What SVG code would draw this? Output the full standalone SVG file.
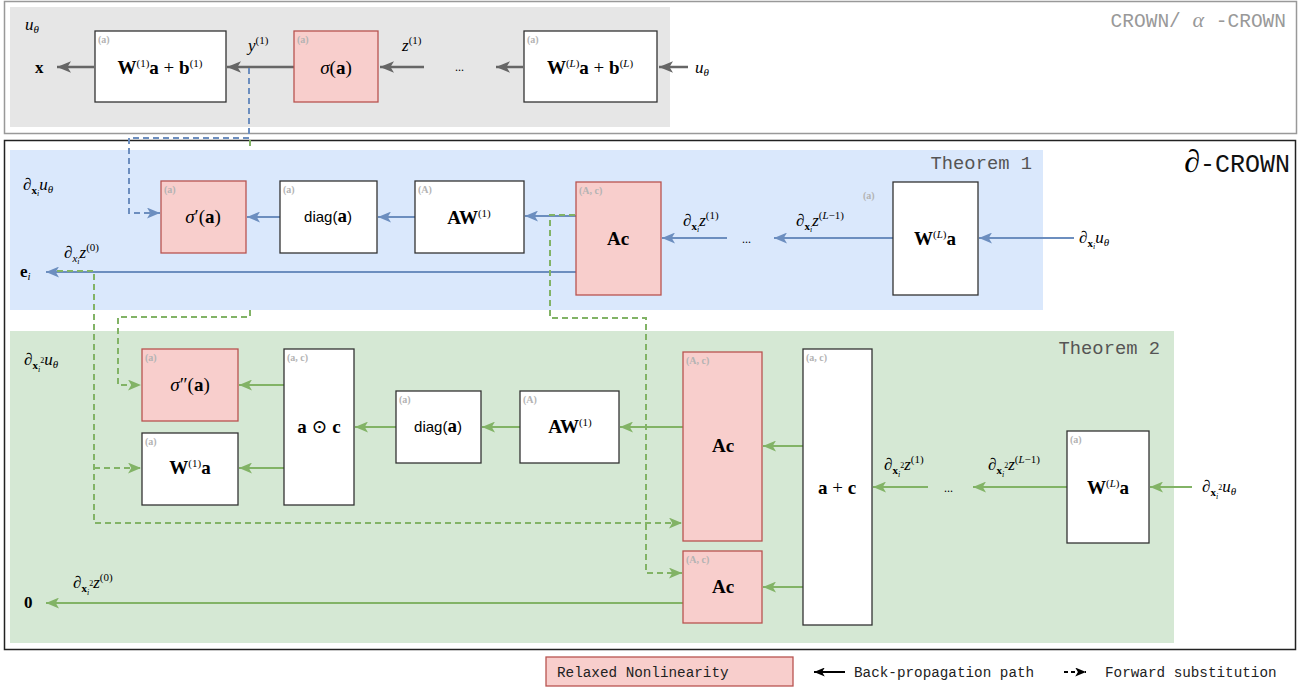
<svg xmlns="http://www.w3.org/2000/svg" width="1304" height="689" viewBox="0 0 1304 689">
<style>
.box{fill:#fff;stroke:#333;stroke-width:1.3}
.red{fill:#f8cecc;stroke:#b85450;stroke-width:1.3}
.c{font-family:"Liberation Serif","DejaVu Serif",serif;font-size:19px;text-anchor:middle;fill:#000}
.l{font-family:"Liberation Serif","DejaVu Serif",serif;font-size:17px;font-style:italic;fill:#000}
.b{font-weight:bold;font-style:normal}
.i{font-style:italic}
.n{font-style:normal}
.sp{font-size:11px;font-style:normal;font-weight:normal}
.sb{font-size:11px}
.ss{font-size:8px}
.sans{font-family:"Liberation Sans",Arial,sans-serif;font-size:15px}
.tag{font-family:"Liberation Serif",serif;font-size:10px;fill:#b3b3b3;font-weight:bold}
.mono{font-family:"Liberation Mono","DejaVu Sans Mono",monospace}
.th{font-family:"Liberation Mono","DejaVu Sans Mono",monospace;font-size:18.8px;fill:#555;text-anchor:end}
.dots{font-family:"Liberation Serif",serif;font-size:12px;fill:#000}
.gl{fill:none;stroke:#666;stroke-width:2.5;marker-end:url(#mg)}
.bl{fill:none;stroke:#6c8ebf;stroke-width:2;marker-end:url(#mb)}
.grl{fill:none;stroke:#82b366;stroke-width:2;marker-end:url(#mgr)}
.bd{fill:none;stroke:#6c8ebf;stroke-width:2;stroke-dasharray:6,4;marker-end:url(#mb)}
.gd{fill:none;stroke:#82b366;stroke-width:2;stroke-dasharray:6,4}
.gda{marker-end:url(#mgr)}
</style>
<defs>
<marker id="mg" viewBox="0 0 12 10" refX="12" refY="5" markerWidth="14" markerHeight="12" markerUnits="userSpaceOnUse" orient="auto"><path d="M0,0 L12,5 L0,10 L3,5 z" fill="#666"/></marker>
<marker id="mb" viewBox="0 0 12 10" refX="12" refY="5" markerWidth="13" markerHeight="11" markerUnits="userSpaceOnUse" orient="auto"><path d="M0,0 L12,5 L0,10 L3,5 z" fill="#6c8ebf"/></marker>
<marker id="mgr" viewBox="0 0 12 10" refX="12" refY="5" markerWidth="13" markerHeight="11" markerUnits="userSpaceOnUse" orient="auto"><path d="M0,0 L12,5 L0,10 L3,5 z" fill="#82b366"/></marker>
<marker id="mk" viewBox="0 0 12 10" refX="12" refY="5" markerWidth="12" markerHeight="9" markerUnits="userSpaceOnUse" orient="auto"><path d="M0,0 L12,5 L0,10 L3,5 z" fill="#000"/></marker>
</defs>

<!-- frames and panels -->
<g id="frames">
<rect x="4.5" y="1.5" width="1292" height="132" fill="#fff" stroke="#999" stroke-width="1.5"/>
<rect x="10" y="7" width="660" height="120" fill="#e6e6e6"/>
<text x="1286" y="27" text-anchor="end" class="mono" font-size="19.5" fill="#999">CROWN/ <tspan font-family="Liberation Serif,serif" font-style="italic" font-size="22">α</tspan> -CROWN</text>
<rect x="4.5" y="140.5" width="1291" height="509" fill="#fff" stroke="#222" stroke-width="1.5"/>
<text x="1290" y="172" text-anchor="end"><tspan font-family="Liberation Serif,serif" font-style="italic" font-size="32">∂</tspan><tspan class="mono" font-size="25" fill="#111">-CROWN</tspan></text>
<rect x="10" y="150" width="1033" height="160" fill="#dae8fc"/>
<text class="th" x="1032" y="169">Theorem 1</text>
<rect x="10" y="331" width="1164" height="312" fill="#d5e8d4"/>
<text class="th" x="1160" y="354">Theorem 2</text>
</g>

<!-- connectors -->
<g id="connectors">
<path class="gl" d="M94,67 H57"/>
<path class="gl" d="M294,67 H227"/>
<path class="gl" d="M424,67 H380"/>
<path class="gl" d="M523,67 H496"/>
<path class="gl" d="M688,67 H659"/>

<path class="bl" d="M1074,238 H979"/>
<path class="bl" d="M893,238 H774"/>
<path class="bl" d="M727,238 H662"/>
<path class="bl" d="M576,216 H525"/>
<path class="bl" d="M415,217 H378"/>
<path class="bl" d="M280,217 H247"/>
<path class="bl" d="M576,272 H46"/>

<path class="grl" d="M1192,487 H1150"/>
<path class="grl" d="M1067,487 H973"/>
<path class="grl" d="M928,487 H873"/>
<path class="grl" d="M803,446 H763"/>
<path class="grl" d="M803,587 H763"/>
<path class="grl" d="M683,427 H620"/>
<path class="grl" d="M520,427 H482"/>
<path class="grl" d="M396,427 H355"/>
<path class="grl" d="M284,385 H239"/>
<path class="grl" d="M284,468 H239"/>
<path class="grl" d="M683,603 H46"/>

<path class="bd" d="M249,68 V138 H129 V213 H160"/>
<path class="gd" d="M250,140 V150"/>
<path class="gd gda" d="M250,310 V317 H118 V385 H141"/>
<path class="gd gda" d="M57,271 H94 V523 H682"/>
<path class="gd gda" d="M94,468 H141"/>
<path class="gd gda" d="M575,215 H550 V318 H646 V573 H682"/>
</g>

<!-- top row (CROWN) -->
<g id="label-utheta-top"><text class="l" x="25" y="30">u<tspan class="sb" dy="3">θ</tspan></text></g>
<g id="label-x"><text class="l b" x="35" y="73">x</text></g>
<g id="node-W1b">
<rect class="box" x="95" y="31" width="131" height="71"/>
<text class="tag" x="98" y="43">(a)</text>
<text class="c" x="160" y="74"><tspan class="b">W</tspan><tspan class="sp" dy="-7">(1)</tspan><tspan class="b" dy="7">a</tspan> + <tspan class="b">b</tspan><tspan class="sp" dy="-7">(1)</tspan></text>
</g>
<g id="label-y1"><text class="l" x="248" y="51">y<tspan class="sp" dy="-7">(1)</tspan></text></g>
<g id="node-sigma">
<rect class="red" x="294" y="31" width="84" height="71"/>
<text class="tag" x="297" y="43" fill="#ccaaaa">(a)</text>
<text class="c" x="336" y="74"><tspan class="i">σ</tspan>(<tspan class="b">a</tspan>)</text>
</g>
<g id="label-z1"><text class="l" x="402" y="51">z<tspan class="sp" dy="-7">(1)</tspan></text></g>
<g id="dots-top"><text class="dots" x="455" y="71">...</text></g>
<g id="node-WLb">
<rect class="box" x="524" y="31" width="133" height="71"/>
<text class="tag" x="527" y="43">(a)</text>
<text class="c" x="590" y="74"><tspan class="b">W</tspan><tspan class="sp" dy="-7">(<tspan class="i">L</tspan>)</tspan><tspan class="b" dy="7">a</tspan> + <tspan class="b">b</tspan><tspan class="sp" dy="-7">(<tspan class="i">L</tspan>)</tspan></text>
</g>
<g id="label-utheta-in"><text class="l" x="695" y="73">u<tspan class="sb" dy="3">θ</tspan></text></g>

<!-- Theorem 1 row -->
<g id="label-dxu"><text class="l" x="23" y="190">∂<tspan class="sb b" dy="4">x</tspan><tspan class="ss" dy="2">i</tspan><tspan dy="-6">u</tspan><tspan class="sb" dy="3">θ</tspan></text></g>
<g id="node-sigmap">
<rect class="red" x="161" y="181" width="85" height="72"/>
<text class="tag" x="164" y="193" fill="#ccaaaa">(a)</text>
<text class="c" x="203" y="223"><tspan class="i">σ</tspan>′(<tspan class="b">a</tspan>)</text>
</g>
<g id="node-diag1">
<rect class="box" x="280" y="181" width="97" height="72"/>
<text class="tag" x="283" y="193">(a)</text>
<text class="c" x="328" y="222"><tspan class="sans">diag(</tspan><tspan class="b">a</tspan><tspan class="sans">)</tspan></text>
</g>
<g id="node-AW1">
<rect class="box" x="415" y="181" width="109" height="72"/>
<text class="tag" x="418" y="193">(A)</text>
<text class="c" x="469" y="224"><tspan class="b">AW</tspan><tspan class="sp" dy="-7">(1)</tspan></text>
</g>
<g id="node-Ac1">
<rect class="red" x="576" y="182" width="85" height="113"/>
<text class="tag" x="579" y="194" fill="#ccaaaa">(A, c)</text>
<text class="c b" x="618" y="245">Ac</text>
</g>
<g id="label-dz1"><text class="l" x="683" y="226">∂<tspan class="sb b" dy="4">x</tspan><tspan class="ss" dy="2">i</tspan><tspan dy="-6">z</tspan><tspan class="sp" dy="-7">(1)</tspan></text></g>
<g id="dots-1"><text class="dots" x="742" y="243">...</text></g>
<g id="label-dzL1"><text class="l" x="796" y="226">∂<tspan class="sb b" dy="4">x</tspan><tspan class="ss" dy="2">i</tspan><tspan dy="-6">z</tspan><tspan class="sp" dy="-7">(<tspan class="i">L</tspan>−1)</tspan></text></g>
<g id="node-WLa1">
<text class="tag" x="863" y="199">(a)</text>
<rect class="box" x="893" y="182" width="85" height="113"/>
<text class="c" x="935" y="245"><tspan class="b">W</tspan><tspan class="sp" dy="-7">(<tspan class="i">L</tspan>)</tspan><tspan class="b" dy="7">a</tspan></text>
</g>
<g id="label-dxu-in"><text class="l" x="1079" y="243">∂<tspan class="sb b" dy="4">x</tspan><tspan class="ss" dy="2">i</tspan><tspan dy="-6">u</tspan><tspan class="sb" dy="3">θ</tspan></text></g>
<g id="label-dz0"><text class="l" x="64" y="258">∂<tspan class="sb" dy="4">x</tspan><tspan class="ss" dy="2">i</tspan><tspan dy="-6">z</tspan><tspan class="sp" dy="-7">(0)</tspan></text></g>
<g id="label-ei"><text class="l" x="20" y="277"><tspan class="b">e</tspan><tspan class="sb" dy="3">i</tspan></text></g>

<!-- Theorem 2 row -->
<g id="label-dx2u"><text class="l" x="24" y="365">∂<tspan class="sb b" dy="4">x</tspan><tspan class="ss" dy="3">i</tspan><tspan class="ss n" dy="-9">2</tspan><tspan dy="2">u</tspan><tspan class="sb" dy="3">θ</tspan></text></g>
<g id="node-sigmapp">
<rect class="red" x="142" y="349" width="96" height="72"/>
<text class="tag" x="145" y="361" fill="#ccaaaa">(a)</text>
<text class="c" x="190" y="391"><tspan class="i">σ</tspan>″(<tspan class="b">a</tspan>)</text>
</g>
<g id="node-W1a">
<rect class="box" x="142" y="433" width="96" height="72"/>
<text class="tag" x="145" y="445">(a)</text>
<text class="c" x="190" y="474"><tspan class="b">W</tspan><tspan class="sp" dy="-7">(1)</tspan><tspan class="b" dy="7">a</tspan></text>
</g>
<g id="node-aodotc">
<rect class="box" x="284" y="349" width="70" height="156"/>
<text class="tag" x="287" y="361">(a, c)</text>
<text class="c" x="319" y="433"><tspan class="b">a</tspan> ⊙ <tspan class="b">c</tspan></text>
</g>
<g id="node-diag2">
<rect class="box" x="396" y="391" width="85" height="72"/>
<text class="tag" x="399" y="403">(a)</text>
<text class="c" x="438" y="432"><tspan class="sans">diag(</tspan><tspan class="b">a</tspan><tspan class="sans">)</tspan></text>
</g>
<g id="node-AW2">
<rect class="box" x="520" y="391" width="99" height="72"/>
<text class="tag" x="523" y="403">(A)</text>
<text class="c" x="570" y="433"><tspan class="b">AW</tspan><tspan class="sp" dy="-7">(1)</tspan></text>
</g>
<g id="node-Ac2">
<rect class="red" x="683" y="352" width="79" height="189"/>
<text class="tag" x="686" y="364" fill="#ccaaaa">(A, c)</text>
<text class="c b" x="723" y="452">Ac</text>
</g>
<g id="node-Ac3">
<rect class="red" x="683" y="551" width="79" height="72"/>
<text class="tag" x="686" y="563" fill="#ccaaaa">(A, c)</text>
<text class="c b" x="723" y="593">Ac</text>
</g>
<g id="node-apc">
<rect class="box" x="803" y="349" width="69" height="276"/>
<text class="tag" x="806" y="361">(a, c)</text>
<text class="c" x="837" y="494"><tspan class="b">a</tspan> + <tspan class="b">c</tspan></text>
</g>
<g id="label-d2z1"><text class="l" x="884" y="470">∂<tspan class="sb b" dy="4">x</tspan><tspan class="ss" dy="3">i</tspan><tspan class="ss n" dy="-9">2</tspan><tspan dy="2">z</tspan><tspan class="sp" dy="-7">(1)</tspan></text></g>
<g id="dots-2"><text class="dots" x="944" y="492">...</text></g>
<g id="label-d2zL1"><text class="l" x="988" y="470">∂<tspan class="sb b" dy="4">x</tspan><tspan class="ss" dy="3">i</tspan><tspan class="ss n" dy="-9">2</tspan><tspan dy="2">z</tspan><tspan class="sp" dy="-7">(<tspan class="i">L</tspan>−1)</tspan></text></g>
<g id="node-WLa2">
<rect class="box" x="1067" y="431" width="82" height="112"/>
<text class="tag" x="1070" y="443">(a)</text>
<text class="c" x="1108" y="494"><tspan class="b">W</tspan><tspan class="sp" dy="-7">(<tspan class="i">L</tspan>)</tspan><tspan class="b" dy="7">a</tspan></text>
</g>
<g id="label-d2u-in"><text class="l" x="1202" y="492">∂<tspan class="sb b" dy="4">x</tspan><tspan class="ss" dy="3">i</tspan><tspan class="ss n" dy="-9">2</tspan><tspan dy="2">u</tspan><tspan class="sb" dy="3">θ</tspan></text></g>
<g id="label-d2z0"><text class="l" x="73" y="588">∂<tspan class="sb b" dy="4">x</tspan><tspan class="ss" dy="3">i</tspan><tspan class="ss n" dy="-9">2</tspan><tspan dy="2">z</tspan><tspan class="sp" dy="-7">(0)</tspan></text></g>
<g id="label-zero"><text class="l b" x="24" y="608">0</text></g>

<!-- legend -->
<g id="legend">
<rect class="red" x="546" y="657" width="247" height="29"/>
<text class="mono" x="557" y="677" font-size="14.3" fill="#222">Relaxed Nonlinearity</text>
<path d="M845,672 H814" stroke="#000" stroke-width="2" marker-end="url(#mk)"/>
<text class="mono" x="854" y="677" font-size="14.3" fill="#222">Back-propagation path</text>
<path d="M1064,672 H1086" stroke="#000" stroke-width="2" stroke-dasharray="4,3" marker-end="url(#mk)"/>
<text class="mono" x="1105" y="677" font-size="14.3" fill="#222">Forward substitution</text>
</g>
</svg>
